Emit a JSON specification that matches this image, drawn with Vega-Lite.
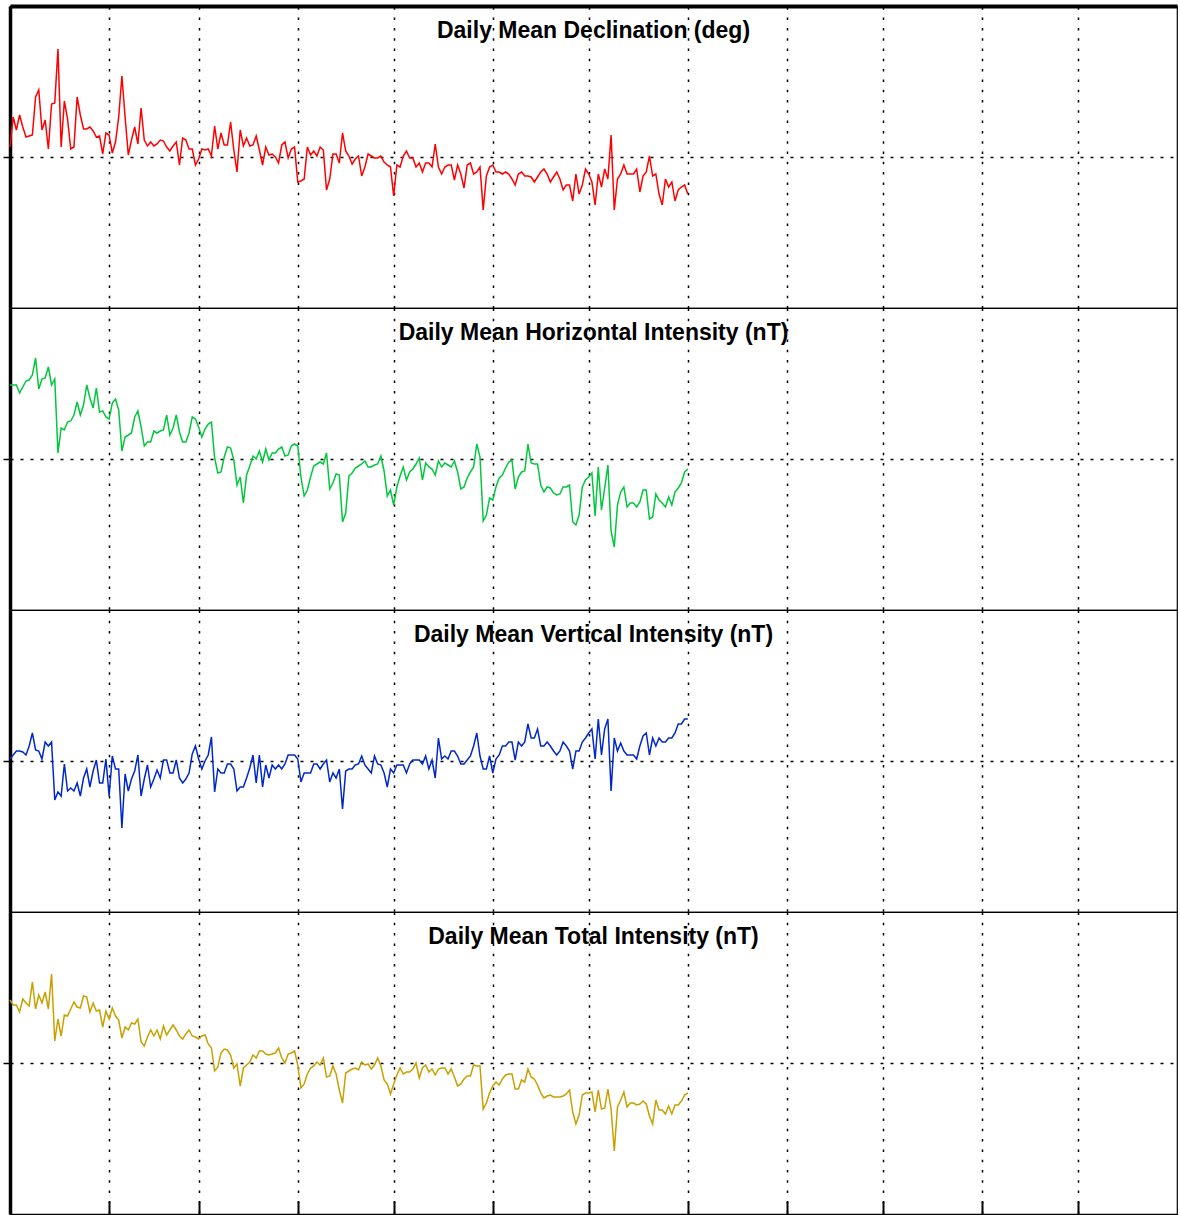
{
"$schema": "https://vega.github.io/schema/vega-lite/v6.json",
"padding": {"left": 1, "top": 5, "right": 1, "bottom": 0},
"background": "white",
"spacing": 0,
"bounds": "flush",
"data": {"values": [
{"date":"2015-01-01","D":10,"H":74,"Z":2,"F":63},
{"date":"2015-01-02","D":40,"H":74,"Z":6,"F":58},
{"date":"2015-01-03","D":27,"H":74,"Z":10,"F":58},
{"date":"2015-01-04","D":42,"H":66,"Z":10,"F":51},
{"date":"2015-01-05","D":30,"H":72,"Z":9,"F":64},
{"date":"2015-01-06","D":20,"H":78,"Z":6,"F":60},
{"date":"2015-01-07","D":21,"H":79,"Z":15,"F":57},
{"date":"2015-01-08","D":22,"H":84,"Z":28,"F":81},
{"date":"2015-01-09","D":60,"H":101,"Z":11,"F":54},
{"date":"2015-01-10","D":67,"H":70,"Z":10,"F":68},
{"date":"2015-01-11","D":27,"H":80,"Z":2,"F":60},
{"date":"2015-01-12","D":37,"H":81,"Z":19,"F":71},
{"date":"2015-01-13","D":8,"H":92,"Z":15,"F":54},
{"date":"2015-01-14","D":53,"H":74,"Z":19,"F":89},
{"date":"2015-01-15","D":54,"H":80,"Z":-39,"F":22},
{"date":"2015-01-16","D":108,"H":6,"Z":-31,"F":44},
{"date":"2015-01-17","D":10,"H":31,"Z":-35,"F":27},
{"date":"2015-01-18","D":56,"H":29,"Z":-3,"F":48},
{"date":"2015-01-19","D":38,"H":37,"Z":-30,"F":47},
{"date":"2015-01-20","D":8,"H":38,"Z":-27,"F":54},
{"date":"2015-01-21","D":10,"H":44,"Z":-30,"F":61},
{"date":"2015-01-22","D":60,"H":57,"Z":-22,"F":56},
{"date":"2015-01-23","D":42,"H":44,"Z":-35,"F":55},
{"date":"2015-01-24","D":28,"H":54,"Z":-17,"F":67},
{"date":"2015-01-25","D":28,"H":74,"Z":-8,"F":66},
{"date":"2015-01-26","D":30,"H":61,"Z":-26,"F":51},
{"date":"2015-01-27","D":26,"H":51,"Z":-10,"F":60},
{"date":"2015-01-28","D":20,"H":71,"Z":1,"F":52},
{"date":"2015-01-29","D":21,"H":47,"Z":-22,"F":53},
{"date":"2015-01-30","D":3,"H":48,"Z":-22,"F":36},
{"date":"2015-01-31","D":24,"H":42,"Z":2,"F":52},
{"date":"2015-02-01","D":22,"H":40,"Z":-35,"F":44},
{"date":"2015-02-02","D":4,"H":56,"Z":5,"F":55},
{"date":"2015-02-03","D":15,"H":60,"Z":-8,"F":47},
{"date":"2015-02-04","D":40,"H":49,"Z":-8,"F":43},
{"date":"2015-02-05","D":81,"H":8,"Z":-67,"F":25},
{"date":"2015-02-06","D":40,"H":22,"Z":-13,"F":36},
{"date":"2015-02-07","D":2,"H":24,"Z":-30,"F":33},
{"date":"2015-02-08","D":17,"H":26,"Z":-18,"F":40},
{"date":"2015-02-09","D":30,"H":42,"Z":-10,"F":39},
{"date":"2015-02-10","D":13,"H":48,"Z":6,"F":44},
{"date":"2015-02-11","D":49,"H":32,"Z":-35,"F":21},
{"date":"2015-02-12","D":17,"H":13,"Z":-18,"F":17},
{"date":"2015-02-13","D":11,"H":17,"Z":-4,"F":26},
{"date":"2015-02-14","D":15,"H":17,"Z":-26,"F":33},
{"date":"2015-02-15","D":11,"H":28,"Z":-18,"F":27},
{"date":"2015-02-16","D":13,"H":26,"Z":-9,"F":33},
{"date":"2015-02-17","D":17,"H":28,"Z":-17,"F":24},
{"date":"2015-02-18","D":16,"H":29,"Z":1,"F":37},
{"date":"2015-02-19","D":10,"H":44,"Z":1,"F":28},
{"date":"2015-02-20","D":6,"H":24,"Z":-12,"F":33},
{"date":"2015-02-21","D":11,"H":31,"Z":-12,"F":38},
{"date":"2015-02-22","D":15,"H":44,"Z":1,"F":33},
{"date":"2015-02-23","D":-8,"H":27,"Z":-17,"F":27},
{"date":"2015-02-24","D":19,"H":17,"Z":-22,"F":24},
{"date":"2015-02-25","D":17,"H":17,"Z":-18,"F":29},
{"date":"2015-02-26","D":8,"H":26,"Z":-12,"F":33},
{"date":"2015-02-27","D":8,"H":42,"Z":7,"F":27},
{"date":"2015-02-28","D":-8,"H":40,"Z":15,"F":26},
{"date":"2015-03-01","D":-2,"H":32,"Z":2,"F":24},
{"date":"2015-03-02","D":8,"H":22,"Z":-8,"F":27},
{"date":"2015-03-03","D":7,"H":30,"Z":0,"F":28},
{"date":"2015-03-04","D":8,"H":35,"Z":6,"F":19},
{"date":"2015-03-05","D":1,"H":37,"Z":24,"F":15},
{"date":"2015-03-06","D":31,"H":1,"Z":-31,"F":-8},
{"date":"2015-03-07","D":8,"H":-14,"Z":-8,"F":-4},
{"date":"2015-03-08","D":24,"H":-13,"Z":-12,"F":10},
{"date":"2015-03-09","D":12,"H":2,"Z":-12,"F":14},
{"date":"2015-03-10","D":12,"H":12,"Z":-3,"F":13},
{"date":"2015-03-11","D":35,"H":11,"Z":-3,"F":8},
{"date":"2015-03-12","D":7,"H":-1,"Z":-8,"F":-5},
{"date":"2015-03-13","D":-15,"H":-26,"Z":-30,"F":-1},
{"date":"2015-03-14","D":27,"H":-18,"Z":-26,"F":-23},
{"date":"2015-03-15","D":11,"H":-44,"Z":-26,"F":-5},
{"date":"2015-03-16","D":19,"H":-16,"Z":-17,"F":-2},
{"date":"2015-03-17","D":11,"H":-7,"Z":-7,"F":1},
{"date":"2015-03-18","D":12,"H":3,"Z":6,"F":8},
{"date":"2015-03-19","D":21,"H":0,"Z":-22,"F":5},
{"date":"2015-03-20","D":7,"H":8,"Z":6,"F":12},
{"date":"2015-03-21","D":-8,"H":-3,"Z":-26,"F":12},
{"date":"2015-03-22","D":10,"H":10,"Z":-4,"F":9},
{"date":"2015-03-23","D":2,"H":-1,"Z":-17,"F":8},
{"date":"2015-03-24","D":3,"H":6,"Z":-4,"F":9},
{"date":"2015-03-25","D":0,"H":6,"Z":-8,"F":10},
{"date":"2015-03-26","D":-6,"H":10,"Z":-4,"F":15},
{"date":"2015-03-27","D":12,"H":12,"Z":-8,"F":5},
{"date":"2015-03-28","D":15,"H":3,"Z":-3,"F":0},
{"date":"2015-03-29","D":-1,"H":4,"Z":6,"F":9},
{"date":"2015-03-30","D":8,"H":13,"Z":6,"F":10},
{"date":"2015-03-31","D":10,"H":15,"Z":6,"F":12},
{"date":"2015-04-01","D":-25,"H":13,"Z":2,"F":-2},
{"date":"2015-04-02","D":-24,"H":-18,"Z":-21,"F":-25},
{"date":"2015-04-03","D":-22,"H":-37,"Z":-12,"F":-21},
{"date":"2015-04-04","D":10,"H":-31,"Z":-12,"F":-11},
{"date":"2015-04-05","D":2,"H":-18,"Z":-12,"F":-5},
{"date":"2015-04-06","D":6,"H":-7,"Z":-3,"F":-3},
{"date":"2015-04-07","D":1,"H":-5,"Z":-3,"F":1},
{"date":"2015-04-08","D":10,"H":-3,"Z":-8,"F":-2},
{"date":"2015-04-09","D":7,"H":-5,"Z":-3,"F":5},
{"date":"2015-04-10","D":-33,"H":6,"Z":1,"F":-14},
{"date":"2015-04-11","D":-22,"H":-30,"Z":-21,"F":-13},
{"date":"2015-04-12","D":3,"H":-24,"Z":-12,"F":-3},
{"date":"2015-04-13","D":3,"H":-15,"Z":-17,"F":-11},
{"date":"2015-04-14","D":-6,"H":-16,"Z":-8,"F":-27},
{"date":"2015-04-15","D":24,"H":-63,"Z":-48,"F":-40},
{"date":"2015-04-16","D":6,"H":-54,"Z":-10,"F":-10},
{"date":"2015-04-17","D":1,"H":-17,"Z":-8,"F":-8},
{"date":"2015-04-18","D":-7,"H":-14,"Z":-8,"F":-6},
{"date":"2015-04-19","D":-2,"H":-9,"Z":-4,"F":-5},
{"date":"2015-04-20","D":1,"H":-7,"Z":-3,"F":-7},
{"date":"2015-04-21","D":-19,"H":-5,"Z":5,"F":1},
{"date":"2015-04-22","D":-10,"H":-2,"Z":-4,"F":-2},
{"date":"2015-04-23","D":3,"H":-8,"Z":-8,"F":-1},
{"date":"2015-04-24","D":1,"H":-8,"Z":-12,"F":-6},
{"date":"2015-04-25","D":-1,"H":-6,"Z":5,"F":-2},
{"date":"2015-04-26","D":-1,"H":-5,"Z":-3,"F":5},
{"date":"2015-04-27","D":1,"H":3,"Z":-4,"F":-3},
{"date":"2015-04-28","D":-5,"H":-12,"Z":-12,"F":-17},
{"date":"2015-04-29","D":-8,"H":-37,"Z":-26,"F":-21},
{"date":"2015-04-30","D":-10,"H":-31,"Z":-8,"F":-31},
{"date":"2015-05-01","D":-39,"H":-46,"Z":-12,"F":-21},
{"date":"2015-05-02","D":-8,"H":-28,"Z":-4,"F":-12},
{"date":"2015-05-03","D":-10,"H":-17,"Z":-4,"F":-5},
{"date":"2015-05-04","D":1,"H":-8,"Z":-4,"F":-11},
{"date":"2015-05-05","D":6,"H":-21,"Z":-12,"F":-9},
{"date":"2015-05-06","D":-1,"H":-13,"Z":-3,"F":-9},
{"date":"2015-05-07","D":-1,"H":-10,"Z":1,"F":-6},
{"date":"2015-05-08","D":-10,"H":-5,"Z":1,"F":0},
{"date":"2015-05-09","D":-6,"H":1,"Z":1,"F":-15},
{"date":"2015-05-10","D":-15,"H":-21,"Z":-3,"F":-5},
{"date":"2015-05-11","D":-6,"H":-4,"Z":5,"F":-2},
{"date":"2015-05-12","D":-6,"H":-8,"Z":-8,"F":-9},
{"date":"2015-05-13","D":-10,"H":-10,"Z":1,"F":-6},
{"date":"2015-05-14","D":13,"H":-16,"Z":-17,"F":-12},
{"date":"2015-05-15","D":-10,"H":-2,"Z":23,"F":-6},
{"date":"2015-05-16","D":-17,"H":-8,"Z":2,"F":-5},
{"date":"2015-05-17","D":-10,"H":-4,"Z":5,"F":-5},
{"date":"2015-05-18","D":-8,"H":-6,"Z":2,"F":-11},
{"date":"2015-05-19","D":-8,"H":-8,"Z":10,"F":-6},
{"date":"2015-05-20","D":-23,"H":-2,"Z":10,"F":-14},
{"date":"2015-05-21","D":-8,"H":-13,"Z":5,"F":-23},
{"date":"2015-05-22","D":-17,"H":-30,"Z":-3,"F":-21},
{"date":"2015-05-23","D":-31,"H":-28,"Z":-3,"F":-16},
{"date":"2015-05-24","D":-8,"H":-19,"Z":1,"F":-13},
{"date":"2015-05-25","D":-6,"H":-13,"Z":5,"F":-13},
{"date":"2015-05-26","D":-17,"H":-8,"Z":15,"F":-2},
{"date":"2015-05-27","D":-15,"H":15,"Z":28,"F":-3},
{"date":"2015-05-28","D":-10,"H":2,"Z":5,"F":-3},
{"date":"2015-05-29","D":-53,"H":-62,"Z":-8,"F":-46},
{"date":"2015-05-30","D":-19,"H":-56,"Z":-8,"F":-40},
{"date":"2015-05-31","D":-10,"H":-39,"Z":5,"F":-30},
{"date":"2015-06-01","D":-8,"H":-41,"Z":-12,"F":-23},
{"date":"2015-06-02","D":-15,"H":-28,"Z":2,"F":-19},
{"date":"2015-06-03","D":-15,"H":-19,"Z":6,"F":-22},
{"date":"2015-06-04","D":-17,"H":-16,"Z":15,"F":-16},
{"date":"2015-06-05","D":-15,"H":-9,"Z":15,"F":-12},
{"date":"2015-06-06","D":-17,"H":-3,"Z":19,"F":-11},
{"date":"2015-06-07","D":-22,"H":-1,"Z":19,"F":-11},
{"date":"2015-06-08","D":-28,"H":-30,"Z":1,"F":-26},
{"date":"2015-06-09","D":-17,"H":-18,"Z":19,"F":-26},
{"date":"2015-06-10","D":-15,"H":-13,"Z":15,"F":-17},
{"date":"2015-06-11","D":-19,"H":-12,"Z":19,"F":-19},
{"date":"2015-06-12","D":-19,"H":15,"Z":37,"F":-6},
{"date":"2015-06-13","D":-20,"H":-4,"Z":23,"F":-14},
{"date":"2015-06-14","D":-25,"H":-5,"Z":23,"F":-16},
{"date":"2015-06-15","D":-20,"H":-5,"Z":32,"F":-22},
{"date":"2015-06-16","D":-15,"H":-26,"Z":15,"F":-30},
{"date":"2015-06-17","D":-12,"H":-33,"Z":15,"F":-35},
{"date":"2015-06-18","D":-17,"H":-28,"Z":19,"F":-33},
{"date":"2015-06-19","D":-25,"H":-29,"Z":15,"F":-32},
{"date":"2015-06-20","D":-20,"H":-34,"Z":10,"F":-34},
{"date":"2015-06-21","D":-15,"H":-36,"Z":6,"F":-34},
{"date":"2015-06-22","D":-22,"H":-35,"Z":10,"F":-34},
{"date":"2015-06-23","D":-33,"H":-28,"Z":19,"F":-33},
{"date":"2015-06-24","D":-28,"H":-28,"Z":15,"F":-31},
{"date":"2015-06-25","D":-28,"H":-26,"Z":10,"F":-27},
{"date":"2015-06-26","D":-44,"H":-63,"Z":-8,"F":-49},
{"date":"2015-06-27","D":-17,"H":-66,"Z":10,"F":-61},
{"date":"2015-06-28","D":-37,"H":-56,"Z":10,"F":-52},
{"date":"2015-06-29","D":-28,"H":-28,"Z":19,"F":-32},
{"date":"2015-06-30","D":-12,"H":-21,"Z":23,"F":-30},
{"date":"2015-07-01","D":-17,"H":-18,"Z":28,"F":-30},
{"date":"2015-07-02","D":-25,"H":-14,"Z":32,"F":-29},
{"date":"2015-07-03","D":-48,"H":-57,"Z":2,"F":-49},
{"date":"2015-07-04","D":-17,"H":-8,"Z":42,"F":-27},
{"date":"2015-07-05","D":-30,"H":-51,"Z":6,"F":-46},
{"date":"2015-07-06","D":-12,"H":-29,"Z":32,"F":-45},
{"date":"2015-07-07","D":-22,"H":-6,"Z":42,"F":-26},
{"date":"2015-07-08","D":22,"H":-72,"Z":-30,"F":-46},
{"date":"2015-07-09","D":-53,"H":-88,"Z":23,"F":-88},
{"date":"2015-07-10","D":-22,"H":-46,"Z":10,"F":-44},
{"date":"2015-07-11","D":-17,"H":-33,"Z":18,"F":-37},
{"date":"2015-07-12","D":-8,"H":-28,"Z":10,"F":-29},
{"date":"2015-07-13","D":-17,"H":-48,"Z":6,"F":-44},
{"date":"2015-07-14","D":-17,"H":-44,"Z":6,"F":-40},
{"date":"2015-07-15","D":-17,"H":-44,"Z":6,"F":-40},
{"date":"2015-07-16","D":-12,"H":-48,"Z":2,"F":-42},
{"date":"2015-07-17","D":-35,"H":-43,"Z":15,"F":-41},
{"date":"2015-07-18","D":-19,"H":-31,"Z":25,"F":-38},
{"date":"2015-07-19","D":-15,"H":-31,"Z":28,"F":-41},
{"date":"2015-07-20","D":1,"H":-60,"Z":6,"F":-53},
{"date":"2015-07-21","D":-19,"H":-58,"Z":23,"F":-61},
{"date":"2015-07-22","D":-17,"H":-35,"Z":15,"F":-37},
{"date":"2015-07-23","D":-37,"H":-41,"Z":23,"F":-47},
{"date":"2015-07-24","D":-48,"H":-44,"Z":19,"F":-47},
{"date":"2015-07-25","D":-22,"H":-48,"Z":19,"F":-51},
{"date":"2015-07-26","D":-30,"H":-38,"Z":23,"F":-43},
{"date":"2015-07-27","D":-25,"H":-46,"Z":23,"F":-51},
{"date":"2015-07-28","D":-44,"H":-33,"Z":28,"F":-42},
{"date":"2015-07-29","D":-33,"H":-29,"Z":37,"F":-42},
{"date":"2015-07-30","D":-30,"H":-24,"Z":37,"F":-38},
{"date":"2015-07-31","D":-28,"H":-13,"Z":42,"F":-32},
{"date":"2015-08-01","D":-37,"H":-10,"Z":42,"F":-30}
]},
"config": {
  "view": {"stroke": "black", "strokeWidth": 1.2},
  "axis": {"domainColor": "black", "tickColor": "black", "gridColor": "black", "gridOpacity": 1, "labels": false, "title": null},
  "title": {"font": "Liberation Sans", "fontSize": 23, "fontWeight": "bold", "color": "black", "anchor": "middle", "frame": "group", "offset": -37, "baseline": "alphabetic"}
},
"vconcat": [
{
  "title": "Daily Mean Declination (deg)",
  "width": 1167, "height": 302,
  "mark": {"type": "line", "color": "#ff0000", "strokeWidth": 1.5},
  "encoding": {
    "x": {"field": "date", "type": "temporal",
      "scale": {"type": "utc", "domain": [{"year": 2015, "month": 1, "date": 1, "utc": true}, {"year": 2016, "month": 1, "date": 1, "utc": true}]},
      "axis": {"orient": "top", "domain": true, "domainWidth": 4, "ticks": false, "labels": false, "grid": true, "gridDash": [2.5, 7.8], "gridWidth": 1.5,
        "values": [{"year":2015,"month":2,"date":1,"utc":true},{"year":2015,"month":3,"date":1,"utc":true},{"year":2015,"month":4,"date":1,"utc":true},{"year":2015,"month":5,"date":1,"utc":true},{"year":2015,"month":6,"date":1,"utc":true},{"year":2015,"month":7,"date":1,"utc":true},{"year":2015,"month":8,"date":1,"utc":true},{"year":2015,"month":9,"date":1,"utc":true},{"year":2015,"month":10,"date":1,"utc":true},{"year":2015,"month":11,"date":1,"utc":true},{"year":2015,"month":12,"date":1,"utc":true}]}},
    "y": {"field": "D", "type": "quantitative", "scale": {"domain": [-151, 151], "nice": false, "zero": false},
      "axis": {"values": [0], "tickSize": 7, "tickWidth": 1.5, "domainWidth": 3.5, "grid": true, "gridDash": [3, 7], "gridWidth": 1.3, "labels": false}}
  }
},
{
  "title": "Daily Mean Horizontal Intensity (nT)",
  "width": 1167, "height": 302,
  "mark": {"type": "line", "color": "#00c83c", "strokeWidth": 1.5},
  "encoding": {
    "x": {"field": "date", "type": "temporal",
      "scale": {"type": "utc", "domain": [{"year": 2015, "month": 1, "date": 1, "utc": true}, {"year": 2016, "month": 1, "date": 1, "utc": true}]},
      "axis": {"orient": "bottom", "domain": false, "ticks": false, "labels": false, "grid": true, "gridDash": [2.5, 7.8], "gridWidth": 1.5,
        "values": [{"year":2015,"month":2,"date":1,"utc":true},{"year":2015,"month":3,"date":1,"utc":true},{"year":2015,"month":4,"date":1,"utc":true},{"year":2015,"month":5,"date":1,"utc":true},{"year":2015,"month":6,"date":1,"utc":true},{"year":2015,"month":7,"date":1,"utc":true},{"year":2015,"month":8,"date":1,"utc":true},{"year":2015,"month":9,"date":1,"utc":true},{"year":2015,"month":10,"date":1,"utc":true},{"year":2015,"month":11,"date":1,"utc":true},{"year":2015,"month":12,"date":1,"utc":true}]}},
    "y": {"field": "H", "type": "quantitative", "scale": {"domain": [-151, 151], "nice": false, "zero": false},
      "axis": {"values": [0], "tickSize": 7, "tickWidth": 1.5, "domainWidth": 3.5, "grid": true, "gridDash": [3, 7], "gridWidth": 1.3, "labels": false}}
  }
},
{
  "title": "Daily Mean Vertical Intensity (nT)",
  "width": 1167, "height": 302,
  "mark": {"type": "line", "color": "#0028c8", "strokeWidth": 1.5},
  "encoding": {
    "x": {"field": "date", "type": "temporal",
      "scale": {"type": "utc", "domain": [{"year": 2015, "month": 1, "date": 1, "utc": true}, {"year": 2016, "month": 1, "date": 1, "utc": true}]},
      "axis": {"orient": "bottom", "domain": false, "ticks": false, "labels": false, "grid": true, "gridDash": [2.5, 7.8], "gridWidth": 1.5,
        "values": [{"year":2015,"month":2,"date":1,"utc":true},{"year":2015,"month":3,"date":1,"utc":true},{"year":2015,"month":4,"date":1,"utc":true},{"year":2015,"month":5,"date":1,"utc":true},{"year":2015,"month":6,"date":1,"utc":true},{"year":2015,"month":7,"date":1,"utc":true},{"year":2015,"month":8,"date":1,"utc":true},{"year":2015,"month":9,"date":1,"utc":true},{"year":2015,"month":10,"date":1,"utc":true},{"year":2015,"month":11,"date":1,"utc":true},{"year":2015,"month":12,"date":1,"utc":true}]}},
    "y": {"field": "Z", "type": "quantitative", "scale": {"domain": [-151, 151], "nice": false, "zero": false},
      "axis": {"values": [0], "tickSize": 7, "tickWidth": 1.5, "domainWidth": 3.5, "grid": true, "gridDash": [3, 7], "gridWidth": 1.3, "labels": false}}
  }
},
{
  "title": "Daily Mean Total Intensity (nT)",
  "width": 1167, "height": 302,
  "mark": {"type": "line", "color": "#c8a000", "strokeWidth": 1.5},
  "encoding": {
    "x": {"field": "date", "type": "temporal",
      "scale": {"type": "utc", "domain": [{"year": 2015, "month": 1, "date": 1, "utc": true}, {"year": 2016, "month": 1, "date": 1, "utc": true}]},
      "axis": {"orient": "bottom", "domain": false, "ticks": true, "tickSize": -13, "tickWidth": 2, "labels": false, "grid": true, "gridDash": [2.5, 7.8], "gridWidth": 1.5,
        "values": [{"year":2015,"month":2,"date":1,"utc":true},{"year":2015,"month":3,"date":1,"utc":true},{"year":2015,"month":4,"date":1,"utc":true},{"year":2015,"month":5,"date":1,"utc":true},{"year":2015,"month":6,"date":1,"utc":true},{"year":2015,"month":7,"date":1,"utc":true},{"year":2015,"month":8,"date":1,"utc":true},{"year":2015,"month":9,"date":1,"utc":true},{"year":2015,"month":10,"date":1,"utc":true},{"year":2015,"month":11,"date":1,"utc":true},{"year":2015,"month":12,"date":1,"utc":true}]}},
    "y": {"field": "F", "type": "quantitative", "scale": {"domain": [-151, 151], "nice": false, "zero": false},
      "axis": {"values": [0], "tickSize": 7, "tickWidth": 1.5, "domainWidth": 3.5, "grid": true, "gridDash": [3, 7], "gridWidth": 1.3, "labels": false}}
  }
}
]
}
